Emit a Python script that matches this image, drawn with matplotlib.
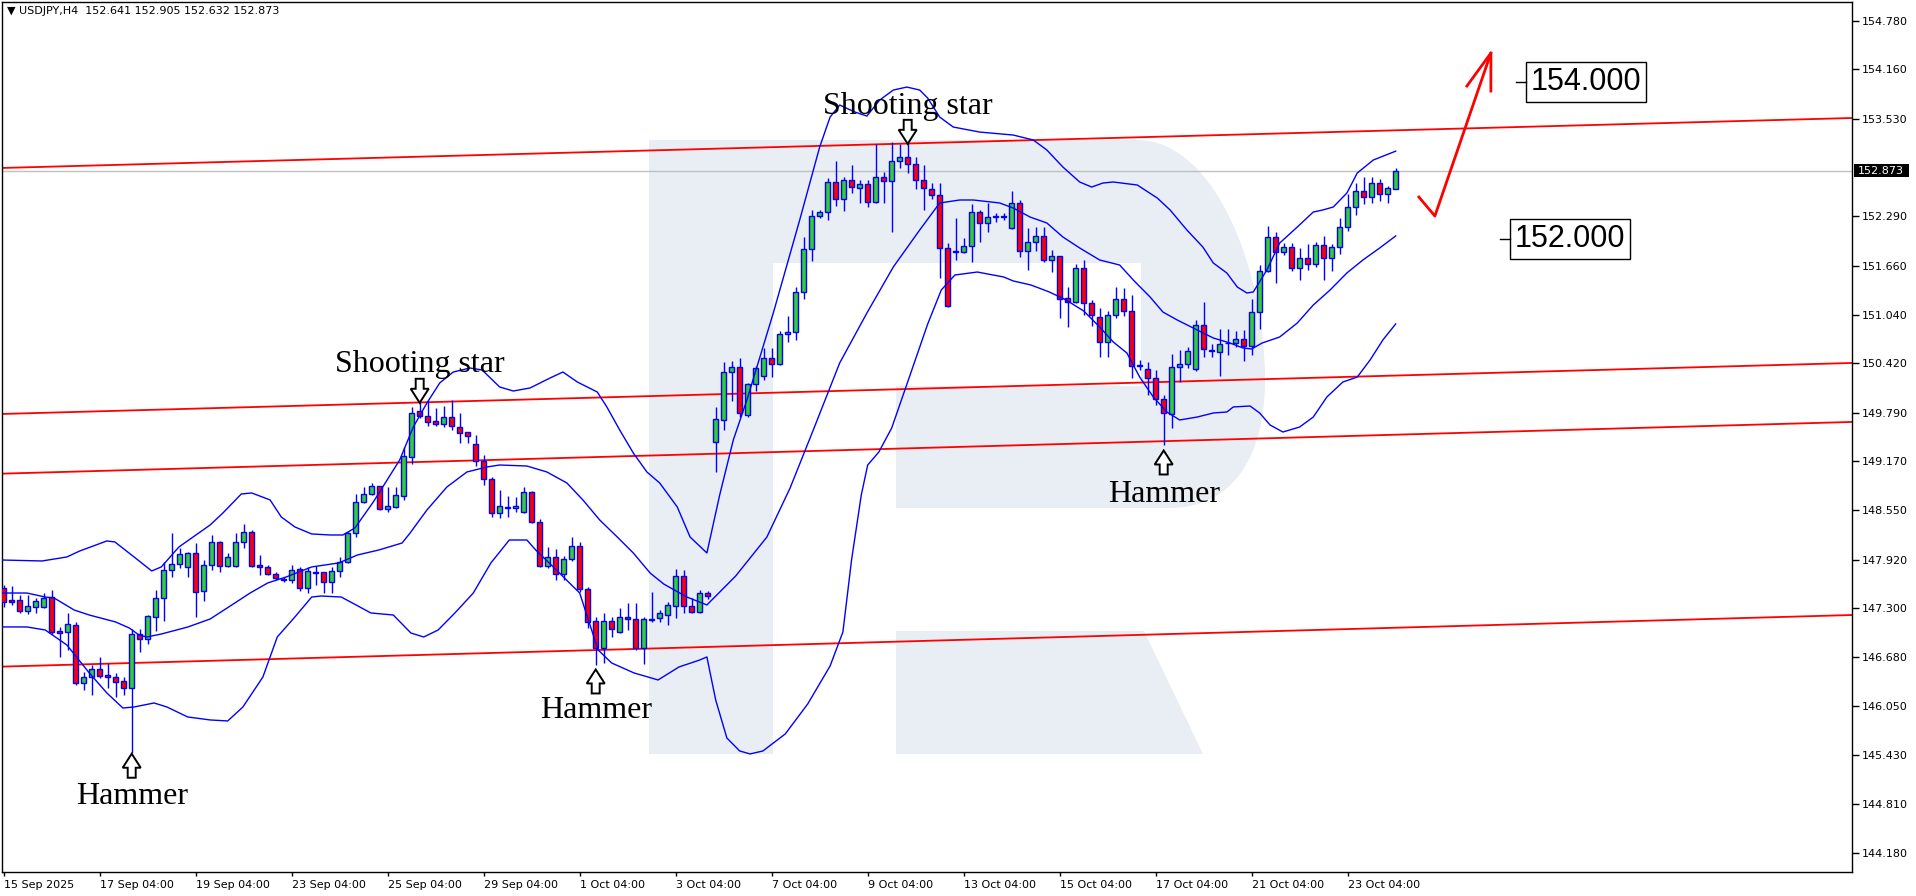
import numpy as np
import matplotlib
matplotlib.use("Agg")
import matplotlib.pyplot as plt
from matplotlib.path import Path
from matplotlib.patches import PathPatch, Polygon, Rectangle
from matplotlib.transforms import IdentityTransform, blended_transform_factory
from matplotlib import font_manager

# USDJPY H4 candles (bar 0 = 15 Sep 04:00)
opens = [
    147.558, 147.405, 147.405, 147.265, 147.316, 147.316, 147.443, 147.010, 146.998, 147.087,
    146.348, 146.425, 146.526, 146.450, 146.425, 146.374, 146.285, 146.972, 146.908, 147.189,
    147.430, 147.787, 147.863, 147.826, 148.004, 147.520, 147.851, 148.144, 147.838, 147.838,
    148.144, 148.271, 147.851, 147.826, 147.736, 147.673, 147.660, 147.800, 147.558, 147.762,
    147.762, 147.635, 147.775, 147.889, 148.258, 148.653, 148.755, 148.857, 148.564, 148.590,
    148.730, 149.227, 149.812, 149.748, 149.684, 149.646, 149.735, 149.608, 149.545, 149.392,
    149.175, 148.946, 148.513, 148.590, 148.577, 148.526, 148.781, 148.399, 147.838, 147.953,
    147.736, 147.927, 148.093, 147.545, 147.138, 146.794, 147.138, 146.998, 147.189, 147.163,
    146.794, 147.151, 147.176, 147.214, 147.329, 147.711, 147.329, 147.252, 147.494, 149.417,
    149.697, 150.308, 150.372, 149.761, 150.155, 150.257, 150.486, 150.410, 150.792, 150.817,
    151.327, 151.874, 152.294, 152.345, 152.727, 152.511, 152.752, 152.651, 152.702, 152.472,
    152.791, 152.740, 152.994, 153.045, 152.956, 152.752, 152.638, 152.562, 151.887, 151.836,
    151.836, 151.912, 152.345, 152.205, 152.280, 152.282, 152.141, 152.460, 151.849, 151.963,
    152.039, 151.734, 151.785, 151.250, 151.199, 151.632, 151.187, 151.009, 150.690, 151.034,
    151.238, 151.085, 150.397, 150.346, 150.232, 149.965, 149.774, 150.372, 150.410, 150.346,
    150.906, 150.588, 150.563, 150.678, 150.678, 150.728, 150.639, 151.072, 151.594, 152.027,
    151.836, 151.900, 151.632, 151.760, 151.683, 151.925, 151.760, 151.900, 152.154, 152.409,
    152.612, 152.536, 152.714, 152.574, 152.641]
highs = [
    147.596, 147.583, 147.469, 147.469, 147.430, 147.494, 147.532, 147.061, 147.240, 147.125,
    146.488, 146.577, 146.679, 146.603, 146.476, 146.425, 147.036, 147.036, 147.214, 147.532,
    147.889, 148.258, 148.067, 148.016, 148.131, 147.915, 148.233, 148.157, 148.004, 148.258,
    148.373, 148.297, 147.978, 147.851, 147.762, 147.698, 147.851, 147.826, 147.826, 147.838,
    147.762, 147.826, 147.953, 148.271, 148.755, 148.844, 148.895, 148.857, 148.844, 148.844,
    149.354, 149.863, 149.926, 149.952, 149.850, 149.876, 149.952, 149.787, 149.545, 149.506,
    149.252, 148.972, 148.806, 148.730, 148.717, 148.844, 148.793, 148.437, 148.080, 148.055,
    147.966, 148.207, 148.144, 147.571, 147.189, 147.240, 147.189, 147.303, 147.367, 147.367,
    147.189, 147.507, 147.278, 147.380, 147.800, 147.787, 147.431, 147.532, 147.520, 149.863,
    150.436, 150.448, 150.486, 150.168, 150.385, 150.614, 150.614, 150.830, 151.021, 151.390,
    152.027, 152.371, 152.371, 152.778, 152.994, 152.791, 152.943, 152.752, 152.752, 153.211,
    152.854, 153.236, 153.211, 153.224, 153.045, 152.943, 152.714, 152.714, 151.950, 152.269,
    152.014, 152.447, 152.371, 152.460, 152.330, 152.333, 152.612, 152.498, 152.141, 152.154,
    152.154, 151.861, 151.785, 151.390, 151.683, 151.734, 151.225, 151.123, 151.085, 151.390,
    151.377, 151.288, 150.461, 150.435, 150.333, 150.015, 150.537, 150.588, 150.627, 150.970,
    151.199, 150.665, 150.856, 150.856, 150.830, 150.843, 151.238, 151.671, 152.167, 152.090,
    151.951, 151.951, 151.887, 151.938, 151.963, 152.040, 151.938, 152.269, 152.574, 152.714,
    152.791, 152.791, 152.765, 152.676, 152.905]
lows = [
    147.316, 147.341, 147.240, 147.227, 147.240, 147.303, 146.972, 146.679, 146.768, 146.323,
    146.259, 146.196, 146.412, 146.285, 146.170, 146.196, 145.457, 146.743, 146.845, 147.010,
    147.138, 147.698, 147.813, 147.698, 147.189, 147.392, 147.787, 147.762, 147.826, 147.826,
    148.068, 147.826, 147.724, 147.724, 147.660, 147.635, 147.622, 147.520, 147.494, 147.596,
    147.494, 147.494, 147.698, 147.876, 148.208, 148.640, 148.742, 148.552, 148.526, 148.577,
    148.679, 149.137, 149.723, 149.621, 149.621, 149.608, 149.570, 149.405, 149.405, 149.112,
    148.870, 148.462, 148.450, 148.462, 148.526, 148.513, 148.386, 147.826, 147.813, 147.660,
    147.660, 147.902, 147.507, 147.049, 146.578, 146.603, 146.934, 146.985, 147.023, 146.768,
    146.591, 147.125, 147.125, 147.087, 147.176, 147.240, 147.240, 147.240, 147.418, 149.035,
    149.570, 149.939, 149.736, 149.736, 150.066, 150.206, 150.244, 150.397, 150.690, 150.716,
    151.237, 151.721, 152.269, 152.243, 152.421, 152.358, 152.587, 152.460, 152.409, 152.460,
    152.460, 152.090, 152.905, 152.841, 152.638, 152.371, 152.511, 151.505, 151.136, 151.734,
    151.823, 151.709, 151.963, 152.090, 152.220, 152.243, 152.129, 151.772, 151.607, 151.849,
    151.709, 151.581, 150.996, 150.881, 151.187, 151.034, 150.894, 150.499, 150.499, 150.996,
    151.021, 150.232, 150.334, 150.015, 149.888, 149.379, 149.595, 150.181, 150.359, 150.321,
    150.499, 150.499, 150.257, 150.525, 150.627, 150.448, 150.525, 150.856, 151.581, 151.441,
    151.798, 151.594, 151.479, 151.607, 151.645, 151.479, 151.594, 151.811, 152.103, 152.307,
    152.447, 152.460, 152.485, 152.460, 152.632]
closes = [
    147.380, 147.380, 147.265, 147.329, 147.392, 147.430, 146.998, 146.985, 147.099, 146.348,
    146.425, 146.526, 146.437, 146.425, 146.361, 146.285, 146.972, 146.908, 147.201, 147.430,
    147.787, 147.863, 147.991, 148.004, 147.507, 147.851, 148.144, 147.838, 147.953, 148.144,
    148.271, 147.838, 147.826, 147.736, 147.686, 147.660, 147.787, 147.558, 147.775, 147.749,
    147.635, 147.775, 147.889, 148.258, 148.653, 148.755, 148.857, 148.564, 148.603, 148.742,
    149.239, 149.787, 149.748, 149.672, 149.646, 149.735, 149.621, 149.532, 149.494, 149.175,
    148.946, 148.513, 148.603, 148.577, 148.603, 148.781, 148.399, 147.838, 147.953, 147.736,
    147.927, 148.093, 147.545, 147.125, 146.794, 147.138, 147.036, 147.189, 147.163, 146.794,
    147.163, 147.163, 147.240, 147.341, 147.711, 147.329, 147.252, 147.494, 147.456, 149.710,
    150.308, 150.372, 149.786, 150.155, 150.359, 150.486, 150.410, 150.792, 150.817, 151.327,
    151.874, 152.294, 152.345, 152.727, 152.511, 152.752, 152.663, 152.702, 152.472, 152.791,
    152.740, 152.994, 153.045, 152.956, 152.752, 152.651, 152.562, 151.887, 151.148, 151.849,
    151.912, 152.345, 152.205, 152.282, 152.290, 152.294, 152.460, 151.849, 151.963, 152.039,
    151.734, 151.785, 151.237, 151.199, 151.632, 151.187, 151.034, 150.690, 151.034, 151.238,
    151.085, 150.385, 150.385, 150.232, 149.965, 149.786, 150.372, 150.410, 150.576, 150.906,
    150.601, 150.576, 150.665, 150.678, 150.728, 150.639, 151.072, 151.594, 152.027, 151.836,
    151.900, 151.632, 151.760, 151.683, 151.925, 151.760, 151.900, 152.154, 152.409, 152.612,
    152.536, 152.714, 152.574, 152.651, 152.873]

# Bollinger bands (bar position, price)
upper_bars = [-0.5, 4.8, 7.9, 9.5, 12.9, 13.9, 16.3, 18.5, 19.7, 21.9, 23.5, 25.8, 27.4, 29.7, 31.0,
              33.3, 34.7, 36.4, 38.5, 40.8, 42.4, 43.9, 46.2, 49.5, 51.2, 52.9, 54.5, 56.2, 58.3,
              59.8, 62.0, 63.7, 65.8, 68.3, 69.9, 71.7, 74.2, 75.4, 77.0, 78.7, 80.4, 82.0, 84.2,
              85.8, 87.9, 89.5, 91.2, 92.9, 96.2, 99.5, 102.0, 103.3, 104.5, 106.4, 107.9, 109.5,
              111.2, 112.9, 114.5, 115.5, 117.0, 118.7, 122.0, 126.2, 128.7, 130.4, 132.4, 134.5,
              136.0, 137.4, 138.7, 141.7, 144.2, 145.8, 147.9, 149.9, 151.2, 152.9, 154.2, 155.4,
              156.2, 157.9, 159.5, 161.7, 163.7, 164.9, 166.2, 167.9, 169.2, 171.2, 174.0]
upper_vals = [147.915, 147.902, 147.953, 148.029, 148.157, 148.144, 147.953, 147.775, 147.826, 148.080,
              148.195, 148.360, 148.513, 148.755, 148.768, 148.679, 148.462, 148.335, 148.246, 148.233,
              148.233, 148.322, 148.653, 149.188, 149.608, 149.913, 150.168, 150.308, 150.359, 150.334,
              150.117, 150.066, 150.105, 150.232, 150.308, 150.181, 150.053, 149.862, 149.570, 149.277,
              149.035, 148.895, 148.589, 148.207, 148.004, 148.742, 149.442, 149.952, 151.059, 152.243,
              153.173, 153.554, 153.707, 153.618, 153.567, 153.771, 153.898, 153.936, 153.898, 153.796,
              153.554, 153.427, 153.363, 153.325, 153.262, 153.134, 152.918, 152.727, 152.663, 152.714,
              152.727, 152.689, 152.523, 152.371, 152.116, 151.899, 151.696, 151.568, 151.390, 151.314,
              151.327, 151.607, 151.950, 152.154, 152.345, 152.371, 152.409, 152.587, 152.842, 153.007,
              153.120]
mid_bars = [-0.5, 2.9, 5.2, 6.3, 8.8, 10.7, 14.0, 15.7, 16.9, 17.9, 19.7, 23.0, 25.8, 28.5, 30.8,
            33.0, 35.3, 38.5, 41.9, 44.2, 46.9, 49.8, 50.8, 52.9, 55.4, 57.9, 60.4, 62.0, 65.4, 67.9,
            70.4, 72.4, 74.5, 76.7, 78.7, 80.8, 82.5, 85.4, 87.9, 91.5, 95.4, 98.3, 101.2, 104.5,
            107.9, 111.2, 114.5, 117.0, 119.5, 121.2, 124.5, 126.2, 128.3, 130.4, 132.4, 134.5,
            137.0, 139.5, 141.2, 143.3, 144.9, 146.7, 148.7, 151.2, 153.3, 154.9, 156.0, 157.3,
            159.5, 161.7, 163.7, 165.8, 167.9, 169.9, 172.0, 174.0]
mid_vals = [147.494, 147.494, 147.443, 147.431, 147.278, 147.214, 147.125, 147.049, 146.960, 146.934,
            146.972, 147.061, 147.163, 147.341, 147.494, 147.622, 147.698, 147.826, 147.877, 147.978,
            148.042, 148.131, 148.258, 148.551, 148.844, 149.035, 149.099, 149.124, 149.111, 149.035,
            148.895, 148.679, 148.424, 148.207, 148.004, 147.749, 147.609, 147.443, 147.342, 147.711,
            148.207, 148.831, 149.570, 150.423, 151.059, 151.645, 152.116, 152.460, 152.498, 152.498,
            152.460, 152.396, 152.281, 152.205, 152.027, 151.887, 151.734, 151.670, 151.479, 151.263,
            151.072, 150.970, 150.868, 150.741, 150.677, 150.614, 150.601, 150.677, 150.754, 150.932,
            151.161, 151.352, 151.569, 151.734, 151.887, 152.040]
lower_bars = [-0.5, 2.9, 5.2, 7.9, 10.7, 12.9, 14.9, 16.3, 18.8, 20.4, 23.0, 25.8, 28.0, 29.9, 32.4,
              34.2, 36.4, 38.5, 39.7, 42.2, 45.9, 48.7, 50.9, 52.5, 54.3, 56.4, 58.7, 60.9, 63.2,
              65.4, 66.5, 68.7, 72.0, 74.3, 76.0, 78.8, 81.8, 84.4, 87.0, 87.9, 89.0, 90.4, 92.0,
              93.3, 94.9, 97.7, 100.5, 103.3, 104.9, 106.0, 107.2, 108.0, 109.4, 111.0, 113.3,
              115.5, 117.2, 118.9, 121.7, 125.0, 126.2, 128.4, 130.7, 132.8, 135.0, 137.0, 138.7,
              140.4, 142.0, 143.7, 145.4, 147.0, 149.2, 151.2, 152.9, 153.7, 155.8, 157.0, 158.3,
              159.9, 162.0, 163.7, 165.4, 167.4, 169.2, 170.8, 172.4, 174.0]
lower_vals = [147.062, 147.062, 147.023, 146.832, 146.476, 146.221, 146.030, 146.043, 146.094, 146.043,
              145.916, 145.878, 145.865, 146.043, 146.425, 146.935, 147.189, 147.443, 147.456, 147.443,
              147.240, 147.214, 146.985, 146.934, 147.023, 147.240, 147.494, 147.877, 148.169, 148.169,
              148.042, 147.826, 147.494, 146.769, 146.603, 146.476, 146.387, 146.552, 146.641, 146.680,
              146.132, 145.648, 145.483, 145.445, 145.483, 145.700, 146.081, 146.565, 146.998, 147.927,
              148.742, 149.124, 149.290, 149.595, 150.270, 150.919, 151.352, 151.543, 151.581, 151.518,
              151.467, 151.416, 151.327, 151.225, 151.085, 150.881, 150.690, 150.550, 150.244, 149.990,
              149.799, 149.697, 149.735, 149.786, 149.799, 149.863, 149.875, 149.786, 149.633, 149.544,
              149.608, 149.735, 149.990, 150.181, 150.244, 150.461, 150.716, 150.920]

# red channel lines: (bar, price) at both ends
channel_start = [(-0.5, 152.905), (-0.5, 149.773), (-0.5, 149.013), (-0.5, 146.556)]
channel_end = [(231.0, 153.542), (231.0, 150.423), (231.0, 149.672), (231.0, 147.214)]

tick_bars = list(range(0, 169, 12))
tick_labels = ["15 Sep 2025", "17 Sep 04:00", "19 Sep 04:00", "23 Sep 04:00", "25 Sep 04:00",
               "29 Sep 04:00", "1 Oct 04:00", "3 Oct 04:00", "7 Oct 04:00", "9 Oct 04:00",
               "13 Oct 04:00", "15 Oct 04:00", "17 Oct 04:00", "21 Oct 04:00", "23 Oct 04:00"]
price_ticks = [154.780, 154.160, 153.530, 152.290, 151.660, 151.040, 150.420, 149.790, 149.170,
               148.550, 147.920, 147.300, 146.680, 146.050, 145.430, 144.810, 144.180]

# candle pattern notes
note_texts = ["Shooting star", "Shooting star", "Hammer", "Hammer", "Hammer"]
note_bars = [52, 113, 16, 74, 145]
note_text_y = [150.312, 153.589, 144.812, 145.899, 148.649]
note_arrow_y = [150.069, 153.366, 145.295, 146.368, 149.156]
note_dirs = ["down", "down", "up", "up", "up"]

# forecast
target_levels = [154.000, 152.000]
target_box_bars = [(190.3, 205.3), (188.3, 203.3)]
forecast_path_bars = [176.9, 178.9, 185.9]
forecast_path_vals = [152.536, 152.294, 154.369]

W, H = 1916, 896
BLUE = "#0000FF"
GREEN = "#32CD32"
RED = "#FF0000"

fig = plt.figure(figsize=(W / 100, H / 100), dpi=100)
ax = fig.add_axes([2 / W, 24 / H, 1850 / W, 870 / H])
ax.set_xlim(-0.2125, 231.04)
ax.set_ylim(143.942, 155.019)
for s in ax.spines.values():
    s.set_linewidth(1)
    s.set_color("black")


def px(x, y):
    return ((x - 2) / 1850, (872 - y) / 870)


# watermark "R"
wm = "#E9EDF4"
verts = [px(649, 140), px(1137, 140),
         px(1215, 140), px(1265, 270), px(1265, 380),
         px(1265, 460), px(1230, 508), px(1170, 508),
         px(896, 508), px(896, 386), px(1141, 386), px(1141, 263),
         px(773, 263), px(773, 754), px(649, 754), px(649, 140)]
codes = [Path.MOVETO, Path.LINETO, Path.CURVE4, Path.CURVE4, Path.CURVE4,
         Path.CURVE4, Path.CURVE4, Path.CURVE4] + [Path.LINETO] * 7 + [Path.CLOSEPOLY]
ax.add_patch(PathPatch(Path(verts, codes), facecolor=wm, edgecolor="none",
                       transform=ax.transAxes, zorder=0))
ax.add_patch(Polygon([px(896, 631), px(1144, 631), px(1203, 754), px(896, 754)],
                     closed=True, facecolor=wm, edgecolor="none",
                     transform=ax.transAxes, zorder=0))

# current price line
last = closes[-1]
ax.axhline(last, color="#C0C0C0", lw=1, zorder=1)

# channel lines
for (x0, y0), (x1, y1) in zip(channel_start, channel_end):
    ax.plot([x0, x1], [y0, y1], color=RED, lw=1.3, zorder=2)

# candles
o = np.array(opens); h = np.array(highs); l = np.array(lows); c = np.array(closes)
idx = np.arange(len(o))
up = c >= o
ax.vlines(idx, l, h, color=BLUE, lw=1, zorder=3)
ax.bar(idx, np.abs(c - o), bottom=np.minimum(o, c), width=0.6,
       color=np.where(up, GREEN, RED), edgecolor=BLUE, linewidth=1, zorder=4)

# bollinger bands
ax.plot(upper_bars, upper_vals, color=BLUE, lw=1, zorder=5)
ax.plot(mid_bars, mid_vals, color=BLUE, lw=1, zorder=5)
ax.plot(lower_bars, lower_vals, color=BLUE, lw=1, zorder=5)

# x axis
ax.set_xticks(tick_bars)
ax.set_xticklabels(tick_labels, ha="left", fontsize=8)
ax.tick_params(axis="x", direction="out", length=3, pad=3, width=1)
# y axis
ax.yaxis.tick_right()
ax.set_yticks(price_ticks)
ax.set_yticklabels([f"{v:.3f}" for v in price_ticks], fontsize=8)
ax.tick_params(axis="y", direction="out", length=5, pad=2, width=1)

# current price tag
bt = blended_transform_factory(ax.transAxes, ax.transData)
ax.add_patch(Rectangle(((1854 - 2) / 1850, last - 0.083), 55 / 1850, 0.166,
                       facecolor="black", edgecolor="none", transform=bt,
                       clip_on=False, zorder=6))
ax.text((1881 - 2) / 1850, last, f"{last:.3f}", transform=bt, color="white",
        fontsize=8, ha="center", va="center", clip_on=False, zorder=7)

# title
ax.text((7 - 2) / 1850, (872 - 6) / 870,
        f"\u25bc USDJPY,H4  {opens[-1]:.3f} {highs[-1]:.3f} {lows[-1]:.3f} {closes[-1]:.3f}",
        transform=ax.transAxes, fontsize=8, ha="left", va="top", zorder=7)

# pattern notes
fig.canvas.draw()
for t, b, ty, ay, d in zip(note_texts, note_bars, note_text_y, note_arrow_y, note_dirs):
    ax.text(b, ty, t, fontsize=23, family="Liberation Serif", ha="center",
            va="baseline", color="black", zorder=7)
    cx, cy = ax.transData.transform((b, ay))
    shape = [(-4, 12), (4, 12), (4, 2), (9, 2), (0, -12), (-9, 2), (-4, 2)]
    if d == "up":
        shape = [(sx, -sy) for sx, sy in shape]
    ax.add_patch(Polygon([(cx + sx, cy + sy) for sx, sy in shape], closed=True,
                         facecolor="white", edgecolor="black", lw=1.4,
                         transform=IdentityTransform(), zorder=7))

# forecast arrow
ax.plot(forecast_path_bars, forecast_path_vals, color=RED, lw=2, zorder=6)
ax.plot([182.9, 185.9, 185.9], [153.949, 154.369, 153.885], color=RED, lw=2, zorder=6)

# target boxes
names = {f.name for f in font_manager.fontManager.ttflist}
if "Liberation Sans Narrow" in names:
    box_font, box_size = "Liberation Sans Narrow", 26
else:
    box_font, box_size = "Liberation Sans", 22
for lev, (b0, b1) in zip(target_levels, target_box_bars):
    ax.add_patch(Rectangle((b0, lev - 0.255), b1 - b0, 0.51, facecolor="white",
                           edgecolor="black", lw=1, zorder=6))
    ax.plot([b0 - 1.25, b0], [lev, lev], color="black", lw=1, zorder=6)
    ax.text((b0 + b1) / 2, lev, f"{lev:.3f}", fontsize=box_size, family=box_font,
            ha="center", va="center", zorder=7)

fig.savefig("out.png", dpi=100, facecolor="white")
